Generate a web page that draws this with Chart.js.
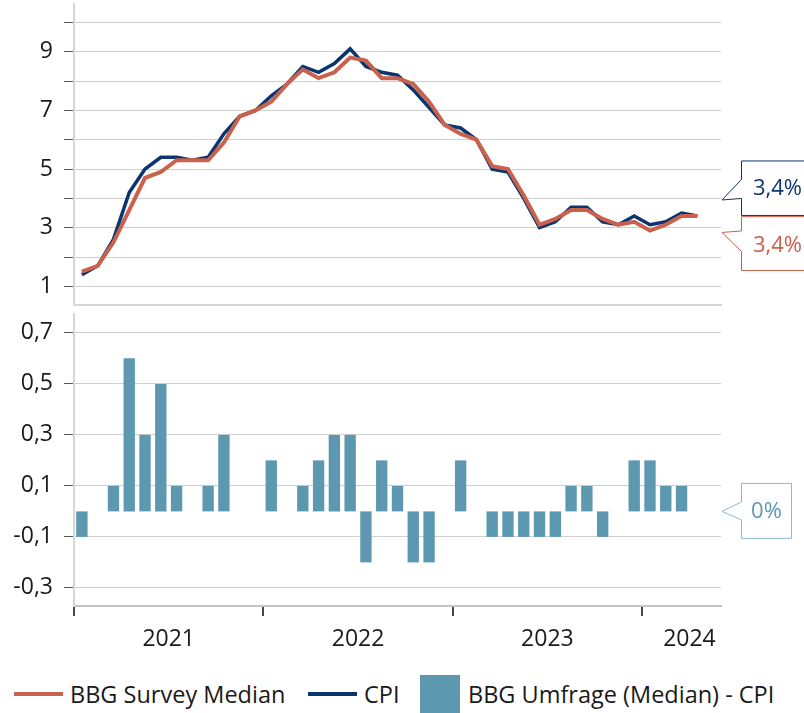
<!DOCTYPE html>
<html>
<head>
<meta charset="utf-8">
<script src="https://cdn.jsdelivr.net/npm/chart.js@4.4.1/dist/chart.umd.min.js"></script>
<style>
  body { margin: 0; background: #fff; width: 804px; height: 713px; overflow: hidden; position: relative; font-family: "Open Sans", sans-serif; }
  #chartTop { position: absolute; left: 0; top: 0; }
  #chartBottom { position: absolute; left: 0; top: 310px; }
  .legend { position: absolute; left: 0; top: 675px; width: 804px; height: 38px; font-size: 23.5px; color: #1a1a1a; }
  .item { position: absolute; top: 0; height: 38px; display: flex; align-items: center; white-space: nowrap; }
  .line { width: 49px; height: 4px; margin-right: 7px; }
  .box { width: 40px; height: 38px; margin-right: 8px; }
</style>
</head>
<body>
<canvas id="chartTop" width="804" height="310"></canvas>
<canvas id="chartBottom" width="804" height="360"></canvas>
<div class="legend">
  <div class="item" style="left:14px"><span class="line" style="background:#c9614c"></span>BBG Survey Median</div>
  <div class="item" style="left:308px"><span class="line" style="background:#0b356e"></span>CPI</div>
  <div class="item" style="left:420px"><span class="box" style="background:#5d98b1"></span>BBG Umfrage (Median) - CPI</div>
</div>
<script>
"use strict";

const months = [
  "01/2021", "02/2021", "03/2021", "04/2021", "05/2021", "06/2021", "07/2021", "08/2021", "09/2021", "10/2021", "11/2021", "12/2021",
  "01/2022", "02/2022", "03/2022", "04/2022", "05/2022", "06/2022", "07/2022", "08/2022", "09/2022", "10/2022", "11/2022", "12/2022",
  "01/2023", "02/2023", "03/2023", "04/2023", "05/2023", "06/2023", "07/2023", "08/2023", "09/2023", "10/2023", "11/2023", "12/2023",
  "01/2024", "02/2024", "03/2024", "04/2024",
];

const cpi = [
  1.4, 1.7, 2.6, 4.2, 5.0, 5.4, 5.4, 5.3, 5.4, 6.2, 6.8, 7.0,
  7.5, 7.9, 8.5, 8.3, 8.6, 9.1, 8.5, 8.3, 8.2, 7.7, 7.1, 6.5,
  6.4, 6.0, 5.0, 4.9, 4.0, 3.0, 3.2, 3.7, 3.7, 3.2, 3.1, 3.4,
  3.1, 3.2, 3.5, 3.4,
];

const survey = [
  1.5, 1.7, 2.5, 3.6, 4.7, 4.9, 5.3, 5.3, 5.3, 5.9, 6.8, 7.0,
  7.3, 7.9, 8.4, 8.1, 8.3, 8.8, 8.7, 8.1, 8.1, 7.9, 7.3, 6.5,
  6.2, 6.0, 5.1, 5.0, 4.1, 3.1, 3.3, 3.6, 3.6, 3.3, 3.1, 3.2,
  2.9, 3.1, 3.4, 3.4,
];

const diff = [
  -0.1, 0, 0.1, 0.6, 0.3, 0.5, 0.1, 0, 0.1, 0.3, 0, 0,
  0.2, 0, 0.1, 0.2, 0.3, 0.3, -0.2, 0.2, 0.1, -0.2, -0.2, 0,
  0.2, 0, -0.1, -0.1, -0.1, -0.1, -0.1, 0.1, 0.1, -0.1, 0, 0.2,
  0.2, 0.1, 0.1, 0,
];

const years = ["2021", "2022", "2023", "2024"];
const yearStarts = [-0.5, 11.5, 23.5, 35.5];
const yearLabelPos = [5.5, 17.5, 29.5, 38.5];

const X_MIN = -0.5;
const X_MAX = 40.5;

const NAVY = "#0b356e";
const RED = "#c9614c";
const BAR = "#5d98b1";
const GRID = "#cfcfcf";
const TEXT = "#1a1a1a";
const FONT = { family: "'Open Sans', sans-serif", size: 23 };

const toPoints = (arr) => arr.map((v, i) => ({ x: i, y: v }));
const fmt = (v, d) => v.toFixed(d).replace(".", ",");

// keep the plot area where the layout padding puts it
const fixY = (s) => { s.width = 74; s.paddingTop = 0; s.paddingBottom = 0; };

function drawCallout(ctx, o) {
  ctx.save();
  ctx.beginPath();
  ctx.moveTo(o.right, o.top);
  ctx.lineTo(o.left, o.top);
  ctx.lineTo(o.left, o.n1);
  ctx.lineTo(o.tipX, o.tipY);
  ctx.lineTo(o.left, o.n2);
  ctx.lineTo(o.left, o.bottom);
  ctx.lineTo(o.right, o.bottom);
  if (o.close) ctx.closePath();
  ctx.fillStyle = "#fff";
  ctx.fill();
  ctx.strokeStyle = o.stroke;
  ctx.lineWidth = 1;
  ctx.stroke();
  ctx.fillStyle = o.color;
  ctx.font = "22px 'Open Sans', sans-serif";
  ctx.textAlign = "center";
  ctx.textBaseline = "middle";
  ctx.fillText(o.text, o.textX, o.textY);
  ctx.restore();
}

const topCallouts = {
  id: "topCallouts",
  afterDraw(chart) {
    const { ctx, chartArea: a } = chart;
    const last = cpi[cpi.length - 1];
    const py = chart.scales.y.getPixelForValue(last);
    const left = a.right + 20.5;
    drawCallout(ctx, {
      tipX: a.right + 1, tipY: py - 16, left, right: 830,
      top: py - 55, bottom: py - 0.5, n1: py - 36.5, n2: py - 17.5,
      stroke: NAVY, color: NAVY, text: fmt(last, 1) + "%",
      textX: left + 36, textY: py - 27,
    });
    const lastS = survey[survey.length - 1];
    drawCallout(ctx, {
      tipX: a.right + 1, tipY: py + 16.5, left, right: 830,
      top: py + 0.7, bottom: py + 54.5, n1: py + 15, n2: py + 35.5,
      stroke: RED, color: RED, text: fmt(lastS, 1) + "%",
      textX: left + 36, textY: py + 30,
    });
  },
};

const bottomCallout = {
  id: "bottomCallout",
  afterDraw(chart) {
    const { ctx, chartArea: a } = chart;
    const last = diff[diff.length - 1];
    const py = chart.scales.y.getPixelForValue(last);
    const left = a.right + 20.5;
    drawCallout(ctx, {
      tipX: a.right + 1, tipY: py, left, right: left + 50, close: true,
      top: py - 28, bottom: py + 27, n1: py - 9.5, n2: py + 8.5,
      stroke: "#8cbacd", color: BAR, text: Math.round(last * 100) + "%",
      textX: left + 25, textY: py,
    });
  },
};

const yGrid = { color: GRID, lineWidth: 1, tickColor: "#555", tickLength: 10 };
const yBorder = { display: true, color: "#d6d6d6", width: 2 };

new Chart(document.getElementById("chartTop"), {
  type: "line",
  data: {
    datasets: [
      { label: "BBG Survey Median", data: toPoints(survey), borderColor: RED, borderWidth: 4, pointRadius: 0, tension: 0 },
      { label: "CPI", data: toPoints(cpi), borderColor: NAVY, borderWidth: 3.5, pointRadius: 0, tension: 0 },
    ],
  },
  options: {
    responsive: false,
    animation: false,
    layout: { padding: { left: 0, right: 83, top: 4.3, bottom: 5.5 } },
    plugins: { legend: { display: false }, tooltip: { enabled: false } },
    scales: {
      x: {
        type: "linear", min: X_MIN, max: X_MAX,
        ticks: { display: false },
        grid: { display: false },
        border: { display: true, color: "#d6d6d6", width: 2 },
        afterFit: (s) => { s.height = 0; s.paddingLeft = 0; s.paddingRight = 0; },
      },
      y: {
        min: 0.38, max: 10.62,
        afterBuildTicks: (s) => { s.ticks = [1, 2, 3, 4, 5, 6, 7, 8, 9, 10].map((v) => ({ value: v })); },
        afterFit: fixY,
        ticks: { color: TEXT, font: FONT, padding: 11, callback: (v) => (v % 2 === 1 ? String(v) : "") },
        grid: yGrid,
        border: yBorder,
      },
    },
  },
  plugins: [topCallouts],
});

new Chart(document.getElementById("chartBottom"), {
  type: "bar",
  data: {
    datasets: [
      { label: "BBG Umfrage (Median) - CPI", data: toPoints(diff), backgroundColor: BAR, barPercentage: 0.72, categoryPercentage: 1 },
    ],
  },
  options: {
    responsive: false,
    animation: false,
    layout: { padding: { left: 0, right: 83, top: 4, bottom: 14 } },
    plugins: { legend: { display: false }, tooltip: { enabled: false } },
    scales: {
      x: {
        type: "linear", min: X_MIN, max: X_MAX, offset: false,
        afterBuildTicks: (s) => {
          s.ticks = [...yearStarts, ...yearLabelPos].sort((a, b) => a - b).map((v) => ({ value: v }));
        },
        afterFit: (s) => { s.height = 50; s.paddingLeft = 0; s.paddingRight = 0; },
        ticks: {
          color: TEXT, font: FONT, padding: 10, autoSkip: false, maxRotation: 0,
          callback: (v) => {
            const i = yearLabelPos.indexOf(v);
            return i >= 0 ? years[i] : "";
          },
        },
        grid: {
          offset: false, drawOnChartArea: false, tickLength: 10, lineWidth: 2,
          tickColor: (c) => (c.tick && yearStarts.includes(c.tick.value) ? "#444" : "rgba(0,0,0,0)"),
        },
        border: { display: true, color: "#c4c4c4", width: 2 },
      },
      y: {
        min: -0.371, max: 0.774,
        afterBuildTicks: (s) => { s.ticks = [-3, -2, -1, 0, 1, 2, 3, 4, 5, 6, 7].map((v) => ({ value: v / 10 })); },
        afterFit: fixY,
        ticks: {
          color: TEXT, font: FONT, padding: 11,
          callback: (v) => (Math.round(v * 10) % 2 !== 0 ? fmt(v, 1) : ""),
        },
        grid: yGrid,
        border: yBorder,
      },
    },
  },
  plugins: [bottomCallout],
});
</script>
</body>
</html>
